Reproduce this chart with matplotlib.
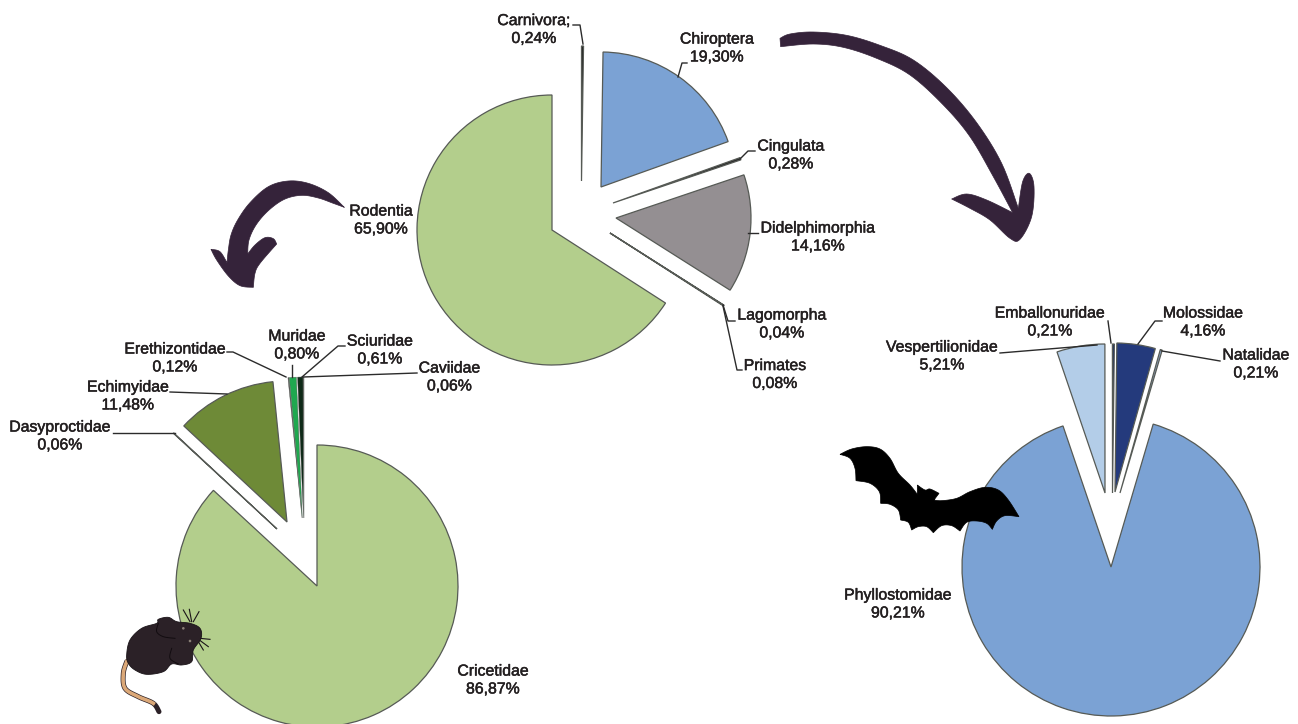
import matplotlib
matplotlib.use('Agg')
import matplotlib.pyplot as plt
import matplotlib.patheffects as pe
from matplotlib.patches import Polygon, Circle

plt.rcParams['font.family'] = ['Liberation Sans', 'DejaVu Sans']

W, H = 1298, 724
TEXT_COLOR = '#231f20'
ARROW_COLOR = '#35233a'
EDGE = '#565a55'

# Ordem
ordem_names = ['Rodentia', 'Primates', 'Lagomorpha', 'Didelphimorphia', 'Cingulata', 'Chiroptera', 'Carnivora;']
ordem_values = [65.90, 0.08, 0.04, 14.16, 0.28, 19.30, 0.24]

# Rodentia
rodentia_names = ['Cricetidae', 'Dasyproctidae', 'Echimyidae', 'Erethizontidae', 'Muridae', 'Sciuridae', 'Caviidae']
rodentia_values = [86.87, 0.06, 11.48, 0.12, 0.80, 0.61, 0.06]

# Chiroptera
chiroptera_names = ['Phyllostomidae', 'Vespertilionidae', 'Emballonuridae', 'Molossidae', 'Natalidae']
chiroptera_values = [90.21, 5.21, 0.21, 4.16, 0.21]

# layout, pixels of the picture
ordem_tips = [(552, 230), (610, 233), (610, 233), (616, 218), (613, 203), (601, 187), (581.5, 181)]
rodentia_tips = [(317, 586), (277, 529), (287, 522), (302, 518), (302.3, 518), (303.5, 518), (304, 518)]
chiroptera_tips = [(1111, 567), (1105, 493), (1112.5, 493), (1115, 492), (1120, 493)]

ordem_colors = ['#b3ce8c', '#2a2a2a', '#2a2a2a', '#948f92', '#2a2a2a', '#7ba2d4', '#1c1c1c']
rodentia_colors = ['#b3ce8c', '#555555', '#6e8a37', '#555555', '#1fa84f', '#0f2a18', '#333333']
chiroptera_colors = ['#7ba2d4', '#b3cde8', '#1c2f66', '#243a7c', '#8fa6c8']

ordem_labels = {
    'Carnivora;': (534, 29.5), 'Chiroptera': (717, 48), 'Cingulata': (791, 155),
    'Didelphimorphia': (818, 237), 'Lagomorpha': (782, 324), 'Primates': (775, 374.5),
    'Rodentia': (381, 220),
}
rodentia_labels = {
    'Caviidae': (449.5, 377), 'Sciuridae': (380, 350), 'Muridae': (297, 345),
    'Erethizontidae': (175, 358), 'Echimyidae': (128, 396), 'Dasyproctidae': (60, 436),
    'Cricetidae': (493, 680),
}
chiroptera_labels = {
    'Phyllostomidae': (898, 604), 'Emballonuridae': (1050, 322), 'Molossidae': (1203, 322),
    'Vespertilionidae': (942, 356), 'Natalidae': (1256, 364),
}

leaders = [
    [(573, 25), (580, 25), (583, 44)],
    [(687, 63), (682, 63), (678, 77)],
    [(755, 151), (748, 151), (740, 159)],
    [(758, 233), (748, 233)],
    [(735, 321), (728, 321), (723, 305)],
    [(742, 370), (737, 370), (723, 306)],
    [(227, 352), (233, 352), (286, 377)],
    [(292, 365), (292, 377)],
    [(345, 346), (338, 346), (302, 377)],
    [(417, 373), (303, 377)],
    [(170, 392), (227, 394)],
    [(113, 433), (175, 433)],
    [(1000, 353), (1097, 345)],
    [(1108, 321), (1111, 343)],
    [(1162, 321), (1155, 321), (1138, 344)],
    [(1220, 361), (1162, 351)],
]

arrow_right = [(30, 55), (30, 55), (60, 42), (130, 36), (230, 46), (330, 76), (430, 120), (530, 203), (620, 308),
               (695, 430), (745, 565), (745, 565), (758, 485), (778, 460), (792, 500), (785, 590),
               (750, 658), (720, 655), (660, 600), (600, 565), (545, 537), (545, 537), (590, 522), (650, 540),
               (728, 578), (728, 578), (670, 470), (600, 350), (520, 255), (420, 165), (320, 115), (220, 82),
               (130, 72), (32, 80), (32, 80)]
arrow_left = [(418, 112), (418, 112), (370, 68), (310, 40), (250, 33), (190, 50), (135, 98), (98, 150), (78, 195),
              (70, 240), (66, 278), (66, 278), (45, 245), (18, 238), (18, 238), (35, 270), (70, 318), (105, 347),
              (145, 352), (145, 352), (150, 310), (165, 280), (215, 222), (215, 222), (205, 206), (180, 203),
              (150, 225), (128, 252), (128, 252), (132, 210), (153, 165), (190, 122), (238, 88), (290, 76),
              (340, 84), (385, 100)]
bat = [(30, 58), (30, 58), (65, 42), (110, 35), (150, 42), (180, 70), (205, 115), (240, 150), (262, 178), (262, 178),
       (262, 150), (262, 150), (285, 165), (300, 162), (327, 175), (327, 175), (312, 195), (312, 195), (335, 197),
       (380, 190), (420, 170), (465, 157), (505, 165), (535, 195), (567, 245), (567, 245), (525, 242), (500, 258),
       (487, 283), (487, 283), (470, 265), (440, 258), (410, 262), (390, 288), (390, 288), (365, 272), (335, 272),
       (310, 293), (310, 293), (290, 275), (265, 275), (245, 285), (245, 285), (235, 262), (212, 255), (212, 255),
       (205, 225), (180, 208), (152, 205), (152, 205), (148, 170), (120, 145), (78, 137), (78, 137),
       (75, 100), (60, 70)]
mouse = [(80, 195), (90, 150), (125, 115), (170, 100), (175, 88), (205, 82), (230, 95), (270, 100),
         (300, 115), (303, 145), (280, 180), (275, 215), (245, 225), (215, 222), (190, 245), (140, 253),
         (105, 240), (85, 220)]
tail = [(80, 215), (70, 250), (75, 295), (115, 320), (160, 340), (177, 365)]
whiskers = [[(270, 95), (250, 60)], [(275, 95), (268, 58)], [(280, 95), (297, 65)],
            [(300, 145), (330, 148)], [(298, 150), (325, 170)], [(295, 155), (310, 180)]]
mouse_folds = [[(175, 100), (170, 125), (190, 140), (225, 145)], [(215, 175), (210, 205), (235, 222)]]
eyes = [(250, 115), (270, 153)]


def flip(pts, ox=0, oy=0, s=1.0):
    return [(ox + x * s, H - (oy + y * s)) for x, y in pts]


def smooth(pts, closed=True, n=8):
    # catmull-rom through the outline points
    out = []
    m = len(pts)
    last = m if closed else m - 1
    for i in range(last):
        if closed:
            p0, p1, p2, p3 = pts[i - 1], pts[i], pts[(i + 1) % m], pts[(i + 2) % m]
        else:
            p0, p1, p2, p3 = pts[max(i - 1, 0)], pts[i], pts[i + 1], pts[min(i + 2, m - 1)]
        if p1 == p2:
            continue
        for k in range(n):
            t = k / n
            q = []
            for a in range(2):
                q.append(0.5 * (2 * p1[a] + (p2[a] - p0[a]) * t
                                + (2 * p0[a] - 5 * p1[a] + 4 * p2[a] - p3[a]) * t ** 2
                                + (3 * p1[a] - p0[a] - 3 * p2[a] + p3[a]) * t ** 3))
            out.append(tuple(q))
    if not closed:
        out.append(pts[-1])
    return out


def draw_pie(ax, values, colors, tips, start, counterclock, radius):
    wedges, _ = ax.pie(values, colors=colors, startangle=start, counterclock=counterclock,
                       radius=radius, wedgeprops=dict(edgecolor=EDGE, linewidth=0.9))
    for w, (x, y) in zip(wedges, tips):
        w.set_center((x, H - y))
    return wedges


fig = plt.figure(figsize=(W / 100, H / 100), dpi=100)
ax = fig.add_axes([0, 0, 1, 1])

draw_pie(ax, ordem_values, ordem_colors, ordem_tips, 90, True, 135)
rod = draw_pie(ax, rodentia_values, rodentia_colors, rodentia_tips, 90, False, 141)
draw_pie(ax, chiroptera_values, chiroptera_colors, chiroptera_tips, 73.55, False, 149)

# hairline edges on the narrow slices, otherwise the green is lost
for w in rod[3:]:
    w.set_linewidth(0.3)

ax.set_xlim(0, W)
ax.set_ylim(0, H)
ax.axis('off')

for pts in leaders:
    p = flip(pts)
    ax.plot([a[0] for a in p], [a[1] for a in p], color='#2b2b2b', lw=1.0, zorder=3)

for names, values, labels in [(ordem_names, ordem_values, ordem_labels),
                              (rodentia_names, rodentia_values, rodentia_labels),
                              (chiroptera_names, chiroptera_values, chiroptera_labels)]:
    for name, val in zip(names, values):
        x, y = labels[name]
        pct = f'{val:.2f}'.replace('.', ',') + '%'
        ax.text(x, H - y, f'{name}\n{pct}', ha='center', va='center', multialignment='center',
                fontsize=11.4, color=TEXT_COLOR, linespacing=1.24, zorder=5,
                path_effects=[pe.withStroke(linewidth=0.35, foreground=TEXT_COLOR)])

# arrows
ax.add_patch(Polygon(flip(smooth(arrow_right), 770, 20, 1 / 3), closed=True, fc=ARROW_COLOR, ec=ARROW_COLOR,
                     lw=0.5, joinstyle='round', zorder=4))
ax.add_patch(Polygon(flip(smooth(arrow_left), 205, 170, 1 / 3), closed=True, fc=ARROW_COLOR, ec=ARROW_COLOR,
                     lw=0.5, joinstyle='round', zorder=4))

# bat
ax.add_patch(Polygon(flip(smooth(bat), 830, 435, 1 / 3), closed=True, fc='black', ec='black', lw=0.5, zorder=6))

# mouse
t = flip(smooth(tail, closed=False), 100, 590, 1 / 3)
ax.plot([a[0] for a in t], [a[1] for a in t], color='#2b2127', lw=3.6, solid_capstyle='round', zorder=6)
ax.plot([a[0] for a in t[:-8]], [a[1] for a in t[:-8]], color='#dba878', lw=2.6, zorder=6)
ax.add_patch(Polygon(flip(smooth(mouse), 100, 590, 1 / 3), closed=True, fc='#2b2127', ec='#1a1418', lw=0.6,
                     joinstyle='round', zorder=7))
for pts in whiskers:
    p = flip(pts, 100, 590, 1 / 3)
    ax.plot([a[0] for a in p], [a[1] for a in p], color='#1a1418', lw=0.8, zorder=6)
for pts in mouse_folds:
    p = flip(smooth(pts, closed=False), 100, 590, 1 / 3)
    ax.plot([a[0] for a in p], [a[1] for a in p], color='#120c10', lw=0.7, zorder=8)
for c in flip(eyes, 100, 590, 1 / 3):
    ax.add_patch(Circle(c, 1.3, fc='#8a8078', ec='none', zorder=8))

fig.savefig('out.png', dpi=100, facecolor='white')
